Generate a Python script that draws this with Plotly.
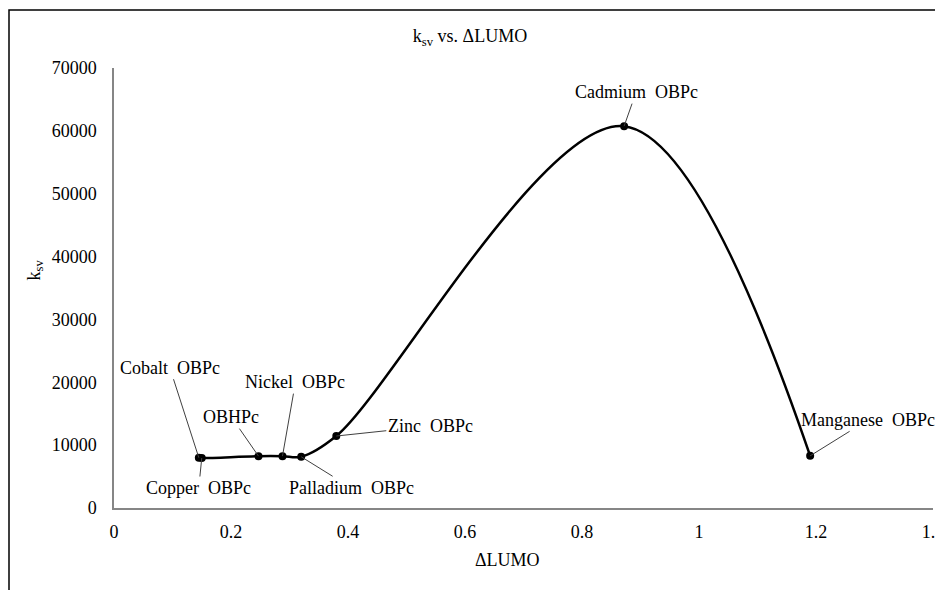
import plotly.graph_objects as go

# Data
compounds = ["Cobalt OBPc", "Copper OBPc", "OBHPc", "Nickel OBPc",
             "Palladium OBPc", "Zinc OBPc", "Cadmium OBPc", "Manganese OBPc"]
delta_lumo = [0.145, 0.15, 0.247, 0.288, 0.32, 0.38, 0.872, 1.19]
ksv = [8000, 7950, 8250, 8250, 8150, 11450, 60750, 8300]

# label offsets (pixels) for data labels
label_dx = [-29, -3, -27, 13, 50, 94, 12, 58]
label_dy = [-90, 30, -39, -74, 31, -10, -34, -36]

x_ticks = [0, 0.2, 0.4, 0.6, 0.8, 1, 1.2, 1.4]
x_tick_text = ["0", "0.2", "0.4", "0.6", "0.8", "1", "1.2", "1.4"]
y_ticks = [0, 10000, 20000, 30000, 40000, 50000, 60000, 70000]
y_tick_text = ["0", "10000", "20000", "30000", "40000", "50000", "60000", "70000"]

FONT = "Liberation Serif, Times New Roman, serif"

L, T, PW, PH = 106, 60, 819, 440

fig = go.Figure()
fig.add_trace(go.Scatter(
    x=delta_lumo, y=ksv, mode="lines+markers",
    line=dict(color="black", width=2.5, shape="spline", smoothing=1.0),
    marker=dict(color="black", size=8),
    showlegend=False, hoverinfo="x+y",
))

for name, xv, yv, dx, dy in zip(compounds, delta_lumo, ksv, label_dx, label_dy):
    fig.add_annotation(
        x=xv, y=yv, text=name.replace(" ", "\u00a0 "),
        showarrow=True, arrowhead=0, arrowwidth=1, arrowcolor="#404040",
        ax=dx, ay=dy, font=dict(family=FONT, size=18, color="black"),
    )

# axis titles
fig.add_annotation(x=(507 - 114) / PW, y=-(572 - 508) / PH, xref="paper", yref="paper",
                   text="ΔLUMO", showarrow=False,
                   font=dict(family=FONT, size=18, color="black"))
fig.add_annotation(x=-(114 - 21) / PW, y=(508 - 270) / PH, xref="paper", yref="paper",
                   text="k<sub>sv</sub>", showarrow=False, textangle=-90,
                   font=dict(family=FONT, size=18, color="black"))

# outer chart border
bx = (1 - L) / PW
by = 1 + (T - 2) / PH
fig.add_shape(type="path", xref="paper", yref="paper",
              path=f"M {bx},-0.3 L {bx},{by} L 1.05,{by}",
              line=dict(color="black", width=1.5))

fig.update_layout(
    width=943, height=590,
    margin=dict(l=L, r=943 - L - PW, t=T, b=590 - T - PH),
    paper_bgcolor="white", plot_bgcolor="white",
    title=dict(text="k<sub>sv</sub> vs. ΔLUMO", x=462 / 943, xanchor="center",
               y=1 - 28 / 590, yanchor="middle",
               font=dict(family=FONT, size=18, color="black")),
    xaxis=dict(range=[0, 1.40001], tickvals=x_ticks, ticktext=x_tick_text,
               automargin=False,
               showgrid=False, zeroline=False, showline=True,
               linecolor="#868686", linewidth=1.5,
               ticks="outside", ticklen=7, tickcolor="rgba(0,0,0,0)",
               tickfont=dict(family=FONT, size=18, color="black")),
    yaxis=dict(range=[0, 70000], tickvals=y_ticks, ticktext=y_tick_text,
               automargin=False,
               showgrid=False, zeroline=False, showline=True,
               linecolor="#868686", linewidth=1.5,
               ticks="outside", ticklen=12, tickcolor="rgba(0,0,0,0)",
               tickfont=dict(family=FONT, size=18, color="black")),
)

fig.write_html("out.html")
